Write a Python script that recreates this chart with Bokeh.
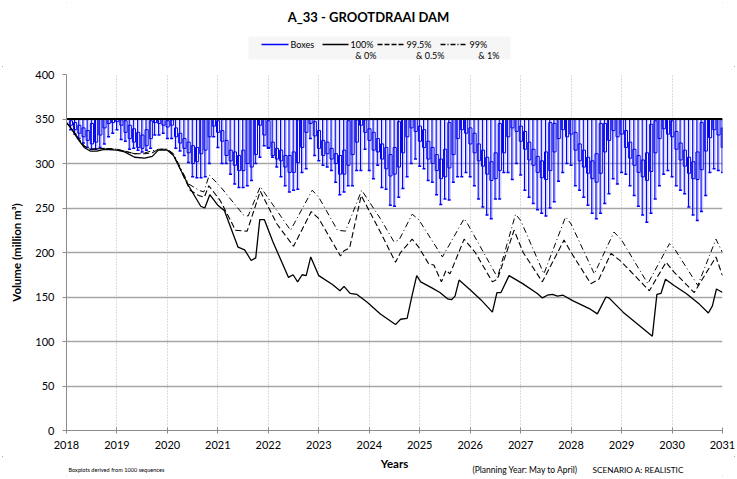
import numpy as np
from bokeh.plotting import figure
from bokeh.layouts import column
from bokeh.models import Range1d, FixedTicker
from bokeh.core.properties import value
from bokeh.embed import file_html
from bokeh.resources import INLINE

# ---------------- data ----------------
FSC = 350  # full supply: top of every whisker and upper (0%) trace
x_ticks = list(range(2018, 2032))
y_ticks = [0, 50, 100, 150, 200, 250, 300, 350, 400]

box_month = list(range(1, 157))  # month index from Jan 2018

box_wlo = [
    338, 333, 328, 323, 318, 316, 316, 318, 322, 330, 334, 338,
    327, 325, 316, 317, 315, 313, 315, 317, 332, 332, 334, 328,
    328, 317, 314, 309, 301, 285, 284, 284, 285, 300, 330, 318,
    300, 300, 288, 277, 273, 273, 275, 281, 300, 307, 320, 317,
    307, 296, 285, 275, 268, 270, 271, 290, 294, 328, 309, 303,
    298, 296, 292, 279, 265, 268, 275, 275, 292, 292, 316, 292,
    283, 298, 273, 271, 253, 252, 262, 272, 285, 300, 305, 297,
    294, 281, 279, 265, 254, 260, 259, 279, 285, 285, 290, 285,
    275, 260, 251, 242, 238, 260, 260, 290, 290, 282, 300, 287,
    270, 262, 255, 248, 244, 241, 250, 257, 280, 290, 300, 298,
    275, 270, 262, 253, 244, 238, 244, 255, 266, 283, 277, 290,
    288, 275, 264, 252, 242, 234, 244, 260, 275, 288, 292, 285,
    275, 270, 266, 251, 242, 236, 246, 264, 290, 294, 292, 290,
]
box_q1 = [
    343, 338, 334, 330, 326, 322, 324, 332, 340, 345, 346, 347,
    343, 335, 328, 324, 318, 317, 320, 328, 346, 345, 343, 341,
    343, 330, 323, 317, 312, 300, 302, 311, 315, 330, 342, 335,
    325, 309, 303, 298, 292, 292, 300, 296, 310, 343, 332, 318,
    309, 305, 303, 296, 290, 290, 301, 318, 335, 345, 331, 317,
    309, 311, 305, 300, 288, 288, 298, 310, 324, 343, 335, 326,
    315, 313, 305, 294, 286, 288, 296, 312, 330, 340, 336, 325,
    318, 305, 300, 292, 283, 285, 295, 310, 328, 338, 334, 322,
    312, 303, 297, 288, 281, 283, 292, 312, 330, 340, 336, 325,
    316, 304, 298, 290, 284, 282, 292, 313, 328, 338, 330, 333,
    315, 303, 296, 289, 283, 279, 289, 313, 326, 337, 330, 333,
    318, 306, 298, 290, 285, 281, 291, 312, 328, 339, 333, 330,
    316, 304, 297, 289, 283, 282, 293, 314, 329, 338, 332, 318,
]
box_q3 = [
    348, 346, 343, 340, 337, 345, 350, 350, 350, 350, 350, 350,
    349, 348, 343, 339, 335, 332, 338, 348, 350, 350, 350, 348,
    349, 340, 334, 328, 324, 320, 318, 350, 350, 350, 350, 348,
    337, 326, 315, 313, 309, 315, 350, 350, 350, 350, 350, 348,
    324, 317, 315, 309, 309, 313, 349, 350, 350, 350, 347, 337,
    326, 324, 317, 311, 309, 315, 348, 350, 349, 350, 349, 339,
    335, 328, 322, 318, 310, 318, 347, 350, 350, 350, 350, 342,
    338, 325, 318, 310, 305, 316, 346, 350, 350, 350, 350, 340,
    334, 322, 315, 307, 302, 312, 345, 350, 350, 350, 350, 342,
    336, 324, 316, 308, 303, 313, 346, 345, 350, 350, 350, 350,
    335, 322, 315, 307, 303, 311, 345, 345, 350, 350, 350, 350,
    337, 324, 316, 309, 304, 312, 344, 348, 350, 350, 350, 348,
    336, 323, 315, 307, 302, 313, 346, 350, 350, 350, 350, 340,
]

# 100% & 0% (lower trace, solid)
line100_t = [2018.00, 2018.10, 2018.22, 2018.35, 2018.47, 2018.60, 2018.75, 2019.00, 2019.15, 2019.35,
             2019.55, 2019.70, 2019.82, 2020.00, 2020.12, 2020.42, 2020.66, 2020.74, 2020.84, 2021.00,
             2021.13, 2021.40, 2021.53, 2021.66, 2021.75, 2021.83, 2021.92, 2022.09, 2022.40, 2022.49,
             2022.58, 2022.67, 2022.75, 2022.84, 2023.00, 2023.27, 2023.42, 2023.50, 2023.62, 2023.75,
             2023.96, 2024.22, 2024.52, 2024.62, 2024.75, 2024.85, 2024.94, 2025.02, 2025.25, 2025.40,
             2025.55, 2025.63, 2025.70, 2025.78, 2026.02, 2026.21, 2026.44, 2026.53, 2026.61, 2026.77,
             2027.04, 2027.33, 2027.43, 2027.53, 2027.63, 2027.73, 2027.84, 2028.03, 2028.36, 2028.52,
             2028.69, 2028.75, 2029.03, 2029.61, 2029.70, 2029.78, 2029.87, 2030.04, 2030.28, 2030.41,
             2030.54, 2030.72, 2030.80, 2030.88, 2031.00]
line100_v = [346, 339, 328, 318, 314, 314, 316, 315, 313, 307,
             306, 308, 315, 315, 309, 275, 252, 250, 265, 253,
             247, 206, 203, 191, 194, 237, 237, 212, 172, 175,
             167, 175, 174, 195, 174, 164, 157, 162, 154, 153,
             144, 131, 119, 125, 126, 152, 174, 167, 160, 155,
             148, 147, 151, 169, 157, 147, 133, 155, 155, 174,
             165, 154, 149, 152, 153, 151, 152, 146, 137, 131,
             150, 149, 133, 106, 153, 154, 170, 163, 154, 148,
             142, 132, 140, 159, 155]

# 99.5% & 0.5% (dashed)
line995_t = [2018.00, 2018.10, 2018.22, 2018.35, 2018.47, 2018.75, 2019.00, 2019.35, 2019.55, 2019.70,
             2019.82, 2020.00, 2020.12, 2020.45, 2020.62, 2020.73, 2020.82, 2021.05, 2021.35, 2021.58,
             2021.84, 2022.17, 2022.50, 2022.85, 2023.00, 2023.43, 2023.50, 2023.61, 2023.84, 2024.22,
             2024.52, 2024.62, 2024.85, 2024.98, 2025.18, 2025.28, 2025.43, 2025.52, 2025.60, 2025.88,
             2026.10, 2026.44, 2026.54, 2026.87, 2027.05, 2027.43, 2027.86, 2028.00, 2028.39, 2028.55,
             2028.79, 2028.99, 2029.55, 2029.88, 2030.04, 2030.44, 2030.87, 2031.00]
line995_v = [346, 339, 329, 319, 316, 317, 316, 311, 311, 312,
             316, 316, 310, 270, 264, 262, 275, 258, 225, 224,
             269, 232, 207, 246, 238, 196, 202, 205, 264, 223,
             189, 200, 215, 206, 187, 186, 167, 180, 176, 215,
             200, 167, 170, 225, 200, 167, 214, 200, 165, 170,
             199, 190, 157, 189, 178, 155, 195, 174]

# 99% & 1% (dash-dot)
line99_t = [2018.00, 2018.10, 2018.22, 2018.35, 2018.47, 2018.75, 2019.00, 2019.35, 2019.55, 2019.82,
            2020.00, 2020.12, 2020.42, 2020.62, 2020.72, 2020.83, 2021.05, 2021.51, 2021.60, 2021.84,
            2022.44, 2022.87, 2023.00, 2023.37, 2023.53, 2023.85, 2024.22, 2024.49, 2024.59, 2024.85,
            2024.98, 2025.45, 2025.88, 2025.95, 2026.54, 2026.90, 2027.00, 2027.46, 2027.89, 2028.00,
            2028.46, 2028.85, 2029.00, 2029.52, 2029.95, 2030.04, 2030.51, 2030.87, 2031.00]
line99_v = [346, 340, 330, 320, 316, 317, 316, 311, 312, 316,
            316, 311, 277, 270, 268, 287, 274, 242, 241, 274,
            225, 270, 262, 225, 224, 270, 238, 212, 214, 243,
            237, 195, 238, 232, 172, 243, 236, 176, 240, 232,
            176, 223, 214, 165, 210, 205, 163, 215, 200]

upper_t = [2018.0, 2031.0]
upper_v = [FSC, FSC]

title_text = "A_33 - GROOTDRAAI DAM"
x_title = "Years"
y_title = "Volume (million m³)"
legend_main = ["Boxes", "100%", "99.5%", "99%"]
legend_sub = ["", "& 0%", "& 0.5%", "& 1%"]
notes = ["Boxplots derived from 1000 sequences", "(Planning Year: May to April)", "SCENARIO A: REALISTIC"]

FONT = "Lato"
W = 737
FRAME_L, FRAME_R = 66, 722      # page x of the plot frame (all stacked panels share it)
TOP_H = 66                       # header strip height
BOTTOM_B = 26                    # main-figure border under the frame
FRAME_T, FRAME_B = 74, 430


def text_panel(height, y0):
    """A strip whose frame coordinates are page pixels (x right, y down)."""
    f = figure(output_backend="svg", toolbar_location=None, width=W, height=height,
               x_range=Range1d(FRAME_L, FRAME_R), y_range=Range1d(y0 + height, y0),
               min_border=0, x_axis_type=None, y_axis_type=None)
    f.grid.visible = False
    f.outline_line_color = None
    f.background_fill_color = "white"
    f.border_fill_color = "white"
    return f


def put_text(f, x, y, txt, size, align="left", bold=False):
    f.text(x=[x], y=[y], text=[txt], text_font=value(FONT), text_font_size=value(size),
           text_font_style="bold" if bold else "normal", text_align=align,
           text_baseline="middle", text_color="black")


# ---------------- header: title + legend ----------------
head = text_panel(TOP_H, 0)
put_text(head, 368, 16, title_text, "13px", align="center", bold=True)
head.quad(left=[248], right=[510], top=[36], bottom=[59], fill_color="#f6f6f6", line_color=None)

leg_x0 = [261, 322, 377, 440]
leg_x1 = [288, 348, 404, 467]
leg_col = ["#0000ff", "black", "black", "black"]
leg_dash = ["solid", "solid", "5 2", "5 2 1 2"]
leg_sub_right = [0, 376, 444, 499]
for i in range(4):
    head.line(x=[leg_x0[i], leg_x1[i]], y=[44, 44], line_color=leg_col[i], line_width=1.4,
              line_dash=leg_dash[i])
    put_text(head, leg_x1[i] + 2, 44, legend_main[i], "9px")
    if legend_sub[i]:
        put_text(head, leg_sub_right[i], 55, legend_sub[i], "9px", align="right")

# ---------------- main chart ----------------
p = figure(output_backend="svg", toolbar_location=None, title=None,
           frame_width=FRAME_R - FRAME_L, frame_height=FRAME_B - FRAME_T,
           min_border_left=FRAME_L, min_border_right=W - FRAME_R,
           min_border_top=FRAME_T - TOP_H, min_border_bottom=BOTTOM_B,
           x_range=Range1d(2018, 2031), y_range=Range1d(0, 400))
p.outline_line_color = None
p.background_fill_color = "white"
p.border_fill_color = "white"

p.xaxis.ticker = FixedTicker(ticks=x_ticks)
p.yaxis.ticker = FixedTicker(ticks=y_ticks)
p.xaxis.minor_tick_line_color = None
p.yaxis.minor_tick_line_color = None
for ax in (p.xaxis[0], p.yaxis[0]):
    ax.axis_line_color = "#8c8c8c"
    ax.major_tick_line_color = "#8c8c8c"
    ax.major_label_text_font = FONT
    ax.major_label_text_font_size = "11px"
    ax.major_label_text_color = "black"
    ax.axis_label_text_font = FONT
    ax.axis_label_text_font_style = "bold"
    ax.axis_label_text_font_size = "11.5px"
    ax.axis_label_text_color = "black"
p.xaxis.major_tick_in = 3
p.xaxis.major_tick_out = 3
p.yaxis.major_tick_in = 0
p.yaxis.major_tick_out = 4
p.xaxis.major_label_standoff = 7
p.yaxis.major_label_standoff = 8
p.yaxis.axis_label = y_title
p.yaxis.axis_label_standoff = 9

p.ygrid.grid_line_color = "#a6a6a6"
p.ygrid.grid_line_width = 1.5
p.xgrid.grid_line_color = "#b8b8b8"
p.xgrid.grid_line_dash = "1 2"
p.xgrid.grid_line_width = 1

bt = 2018 + np.array(box_month) / 12.0
wlo = np.array(box_wlo)
q1 = np.array(box_q1)
q3 = np.array(box_q3)
top = np.full(len(bt), FSC)

p.vbar(x=bt + 0.012, width=0.045, bottom=wlo, top=top,
       fill_color="#7a7aff", fill_alpha=0.35, line_color=None)
p.vbar(x=bt + 0.004, width=0.062, bottom=q1, top=q3,
       fill_color="white", fill_alpha=0.7, line_color="#0000e0", line_width=1)
p.segment(x0=bt - 0.008, y0=wlo, x1=bt - 0.008, y1=top, line_color="#0000ff", line_width=1.1)
p.segment(x0=bt - 0.03, y0=wlo, x1=bt + 0.03, y1=wlo, line_color="#0000ff", line_width=1.5)

p.line(upper_t, upper_v, line_color="black", line_width=2.2)
p.line(line99_t, line99_v, line_color="black", line_width=1, line_dash="6 3 1 3")
p.line(line995_t, line995_v, line_color="black", line_width=1.1, line_dash="6 3")
p.line(line100_t, line100_v, line_color="black", line_width=1.3)

# ---------------- footer: x title + notes ----------------
FOOT_Y0 = FRAME_B + BOTTOM_B
foot = text_panel(479 - FOOT_Y0, FOOT_Y0)
put_text(foot, 394, 463, x_title, "11.5px", align="center", bold=True)
put_text(foot, 68, 469, notes[0], "5.6px")
put_text(foot, 472, 469, notes[1], "8.5px")
put_text(foot, 592, 469, notes[2], "8.2px")

layout = column(head, p, foot, spacing=0)
layout.styles = {"outline": "1px solid #8c8c8c", "outline-offset": "-3px"}
open("out.html", "w").write(file_html(layout, INLINE))
